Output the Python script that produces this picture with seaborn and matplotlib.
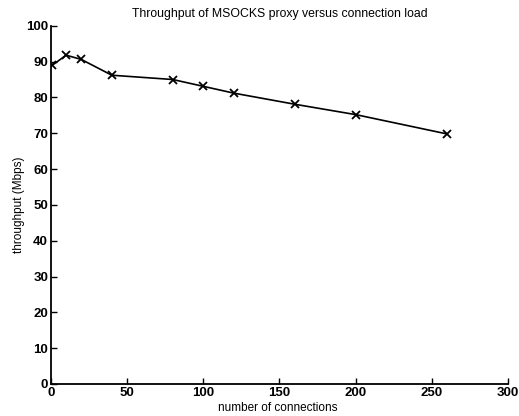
import matplotlib
matplotlib.use("Agg")
import matplotlib.pyplot as plt
import seaborn as sns
import pandas as pd

connections = [1, 10, 20, 40, 80, 100, 120, 160, 200, 260]
throughput = [89.0, 91.8, 90.6, 86.2, 85.0, 83.1, 81.2, 78.1, 75.2, 69.8]
x_ticks = [0, 50, 100, 150, 200, 250, 300]
y_ticks = [0, 10, 20, 30, 40, 50, 60, 70, 80, 90, 100]

sns.set_style("ticks")
plt.rcParams['font.family'] = ['Liberation Sans', 'DejaVu Sans']
plt.rcParams['text.color'] = 'black'
plt.rcParams['axes.labelcolor'] = 'black'
plt.rcParams['xtick.color'] = 'black'
plt.rcParams['ytick.color'] = 'black'
plt.rcParams['axes.edgecolor'] = 'black'

df = pd.DataFrame({"connections": connections, "throughput": throughput})

fig = plt.figure(figsize=(5.19, 4.16), dpi=100)
ax = fig.add_axes([0.098, 0.077, 0.881, 0.861])
sns.lineplot(data=df, x="connections", y="throughput", ax=ax, color="black",
             marker="x", markersize=6, markeredgewidth=1.3, markeredgecolor="black",
             linewidth=1.2)
ax.set_xlim(0, 300)
ax.set_ylim(0, 100)
ax.set_xticks(x_ticks)
ax.set_yticks(y_ticks)
ax.tick_params(direction="in", length=4, width=1, labelsize=9.5, pad=2)
for lab in ax.get_xticklabels() + ax.get_yticklabels():
    lab.set_fontweight("bold")
for s in ["top", "right"]:
    ax.spines[s].set_visible(False)
for s in ["left", "bottom"]:
    ax.spines[s].set_linewidth(1.3)
ax.set_xlabel("number of connections", fontsize=8.5)
ax.xaxis.set_label_coords(0.497, -0.05)
ax.set_ylabel("throughput (Mbps)", fontsize=8.5)
ax.yaxis.set_label_coords(-0.057, 0.5)
ax.set_title("Throughput of MSOCKS proxy versus connection load", fontsize=8.8, pad=6)
fig.savefig("out.png", dpi=100)
